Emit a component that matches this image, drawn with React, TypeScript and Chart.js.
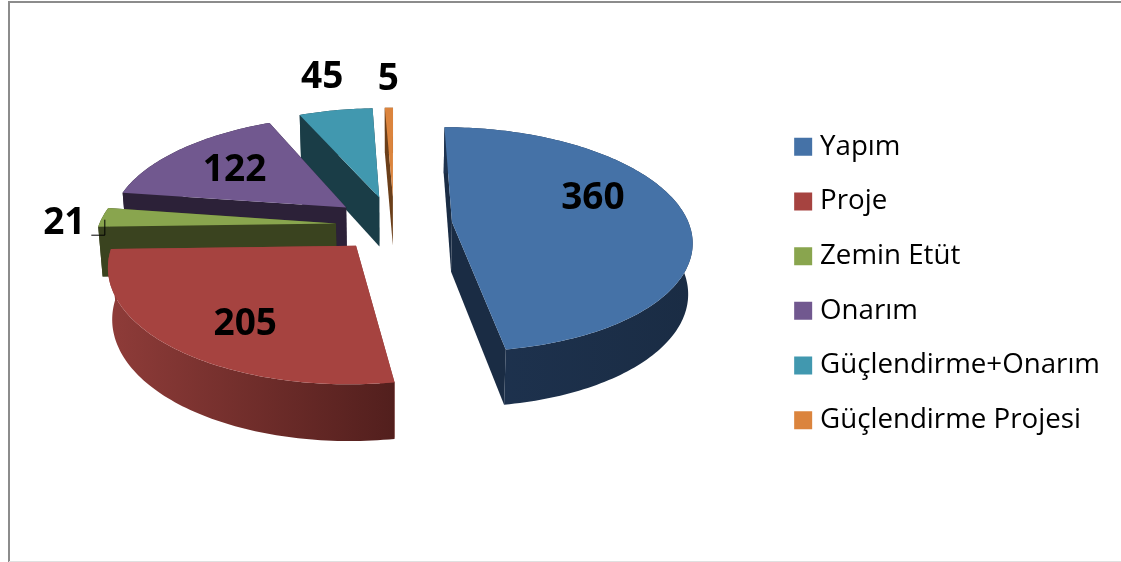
import React, { useEffect, useRef } from "react";
import { Chart, registerables } from "chart.js";

Chart.register(...registerables);

const categories = ["Yapım", "Proje", "Zemin Etüt", "Onarım", "Güçlendirme+Onarım", "Güçlendirme Projesi"];
const values = [360, 205, 21, 122, 45, 5];
const topColors = ["#4572A7", "#A64340", "#89A54E", "#71588F", "#4198AF", "#DB843D"];
const wallLeft = ["#1E3350", "#8F3C39", "#3A431F", "#2C2138", "#1A3D47", "#6B3F1A"];
const wallRight = ["#1A2C44", "#521F1D", "#3A431F", "#2C2138", "#1A3D47", "#6B3F1A"];
// Offsets of each value label from its slice's anchor point.
const labelShiftX = [4, -7, -132, -12, -31, -1];
const labelShiftY = [-19, 21, 4, -3, -68, -64];
// Small correction of each exploded slice.
const sliceNudgeX = [3, 0, -1, -3, -1.5, 1];
const sliceNudgeY = [-1, 0, 0, -2, -3, -3];

const CX = 393, CY = 225, RX = 237, RY = 110, PERSP = 0.155, EXPLODE = 0.2375, DEPTH = 50;

const project = (u: number, v: number, dx = 0, dy = 0) => {
  const s = 1 / (1 - PERSP * v);
  return { x: CX + RX * u * s + dx, y: CY + RY * v * s + dy, s };
};
const drop = (p: { x: number; y: number; s: number }) => ({
  x: CX + (p.x - CX) * 0.985,
  y: p.y + DEPTH * (1 + 0.6 * (p.s - 1)),
  s: p.s,
});
const poly = (ctx: CanvasRenderingContext2D, pts: { x: number; y: number }[]) => {
  ctx.beginPath();
  pts.forEach((p, i) => (i ? ctx.lineTo(p.x, p.y) : ctx.moveTo(p.x, p.y)));
  ctx.closePath();
};

const pie3d = {
  id: "pie3d",
  beforeDraw(chart: any) {
    const { ctx, width, height } = chart;
    ctx.save();
    ctx.fillStyle = "#ffffff";
    ctx.fillRect(0, 0, width, height);
    ctx.strokeStyle = "#8c8c8c";
    ctx.lineWidth = 2;
    ctx.beginPath();
    ctx.moveTo(width, 2);
    ctx.lineTo(9, 2);
    ctx.lineTo(9, height);
    ctx.stroke();
    ctx.strokeStyle = "#e0e0e0";
    ctx.lineWidth = 1;
    ctx.beginPath();
    ctx.moveTo(9, height - 0.5);
    ctx.lineTo(width, height - 0.5);
    ctx.stroke();
    ctx.restore();
  },
  beforeDatasetsDraw(chart: any) {
    const { ctx } = chart;
    const arcs = chart.getDatasetMeta(0).data;
    ctx.save();
    for (let i = arcs.length - 1; i >= 0; i--) {
      const { startAngle, endAngle } = arcs[i].getProps(["startAngle", "endAngle"], true);
      const mid = (startAngle + endAngle) / 2;
      const ou = EXPLODE * Math.cos(mid), ov = EXPLODE * Math.sin(mid);
      const dx = sliceNudgeX[i], dy = sliceNudgeY[i];
      const apex = project(ou, ov, dx, dy);
      const n = Math.max(4, Math.ceil((endAngle - startAngle) / 0.02));
      const rim = [];
      for (let k = 0; k <= n; k++) {
        const a = startAngle + ((endAngle - startAngle) * k) / n;
        rim.push(project(ou + Math.cos(a), ov + Math.sin(a), dx, dy));
      }
      const bottomRim = rim.map(drop);
      const first = rim[0], last = rim[n];
      ctx.fillStyle = i === 1 ? wallLeft[i] : wallRight[i];
      poly(ctx, [apex, last, drop(last), drop(apex)]);
      ctx.fill();
      poly(ctx, [apex, first, drop(first), drop(apex)]);
      ctx.fill();
      const xs = rim.map((p) => p.x);
      const g = ctx.createLinearGradient(Math.min(...xs), 0, Math.max(...xs), 0);
      g.addColorStop(0, wallLeft[i]);
      g.addColorStop(1, wallRight[i]);
      ctx.fillStyle = g;
      poly(ctx, [...rim, ...bottomRim.slice().reverse()]);
      ctx.fill();
      ctx.fillStyle = topColors[i];
      poly(ctx, [apex, ...rim]);
      ctx.fill();
    }
    ctx.fillStyle = "#000000";
    ctx.font = 'bold 37px "Open Sans"';
    ctx.textAlign = "center";
    ctx.textBaseline = "middle";
    arcs.forEach((arc: any, i: number) => {
      const { startAngle, endAngle } = arc.getProps(["startAngle", "endAngle"], true);
      const mid = (startAngle + endAngle) / 2;
      const r = EXPLODE + 0.6;
      const p = project(r * Math.cos(mid), r * Math.sin(mid));
      const x = p.x + labelShiftX[i], y = p.y + labelShiftY[i];
      ctx.fillText(String(values[i]), x, y);
      if (values[i] === 21) {
        ctx.strokeStyle = "#000000";
        ctx.lineWidth = 1;
        ctx.beginPath();
        ctx.moveTo(x + 27, y + 11.5);
        ctx.lineTo(x + 40.5, y + 11.5);
        ctx.lineTo(x + 40.5, y - 4);
        ctx.stroke();
      }
    });
    ctx.restore();
    return false;
  },
};

export default function App() {
  const ref = useRef<HTMLCanvasElement>(null);
  useEffect(() => {
    const chart = new Chart(ref.current as HTMLCanvasElement, {
      type: "pie",
      data: {
        labels: categories,
        datasets: [{ data: values, backgroundColor: topColors, borderWidth: 0 }],
      },
      options: {
        responsive: false,
        animation: false,
        layout: { padding: { right: 11, top: 5 } },
        plugins: {
          tooltip: { enabled: false },
          legend: {
            position: "right",
            labels: {
              usePointStyle: true,
              pointStyle: "rect",
              boxWidth: 6,
              boxHeight: 18,
              padding: 27,
              color: "#000000",
              font: { family: '"Open Sans"', size: 27.7 },
            },
          },
        },
      },
      plugins: [pie3d],
    } as any);
    return () => chart.destroy();
  }, []);
  return (
    <canvas
      ref={ref}
      width={1121}
      height={562}
      style={{ position: "fixed", left: 0, top: 0, width: 1121, height: 562, display: "block" }}
    />
  );
}
